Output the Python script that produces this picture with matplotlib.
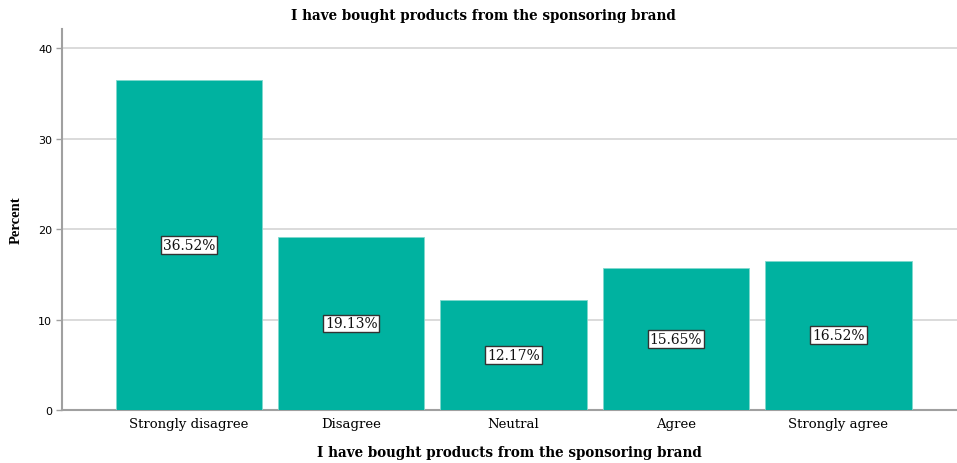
import matplotlib
matplotlib.use("Agg")
import matplotlib.pyplot as plt

categories = ["Strongly disagree", "Disagree", "Neutral", "Agree", "Strongly agree"]
percents = [36.52, 19.13, 12.17, 15.65, 16.52]
title = "I have bought products from the sponsoring brand"

bar_color = "#00b2a0"
wide_serif = ["DejaVu Serif"]
serif = ["Liberation Serif", "DejaVu Serif"]

fig = plt.figure(figsize=(9.57, 4.64), dpi=100)
ax = fig.add_axes([0.0648, 0.1142, 0.9352, 0.8208])

x = list(range(len(categories)))
ax.bar(x, percents, width=0.9, color=bar_color, edgecolor="#7fd8cd",
       linewidth=0.6, zorder=3)

for xi, v in zip(x, percents):
    ax.text(xi, v / 2, f"{v:.2f}%", ha="center", va="center",
            family=wide_serif, fontsize=10, color="#111111", zorder=4,
            bbox=dict(boxstyle="square,pad=0.14", fc="white",
                      ec="#333333", lw=1.0))

ax.set_xlim(-0.78, 4.73)
ax.set_ylim(0, 42.1)
ax.set_yticks([0, 10, 20, 30, 40])
ax.yaxis.grid(True, color="#d4d4d4", linewidth=1.2, zorder=0)
ax.set_axisbelow(True)

ax.set_xticks(x)
ax.set_xticklabels(categories, family=wide_serif, fontsize=9.5)
ax.tick_params(axis="x", length=0, pad=5)
ax.tick_params(axis="y", length=4, width=1, color="#a0a0a0",
               labelsize=8, pad=3)
for lbl in ax.get_yticklabels():
    lbl.set_family("DejaVu Sans")

for side in ["top", "right"]:
    ax.spines[side].set_visible(False)
for side in ["left", "bottom"]:
    ax.spines[side].set_color("#a0a0a0")
    ax.spines[side].set_linewidth(1.5)

ax.set_xlabel(title, family=wide_serif, fontsize=9.75, fontweight="bold",
              labelpad=11)
ax.set_ylabel("Percent", family=serif, fontsize=10.5, fontweight="bold",
              labelpad=11)
fig.text(0.505, 0.965, title, ha="center", va="center", family=wide_serif,
         fontsize=9.75, fontweight="bold")

fig.savefig("out.png", dpi=100)
